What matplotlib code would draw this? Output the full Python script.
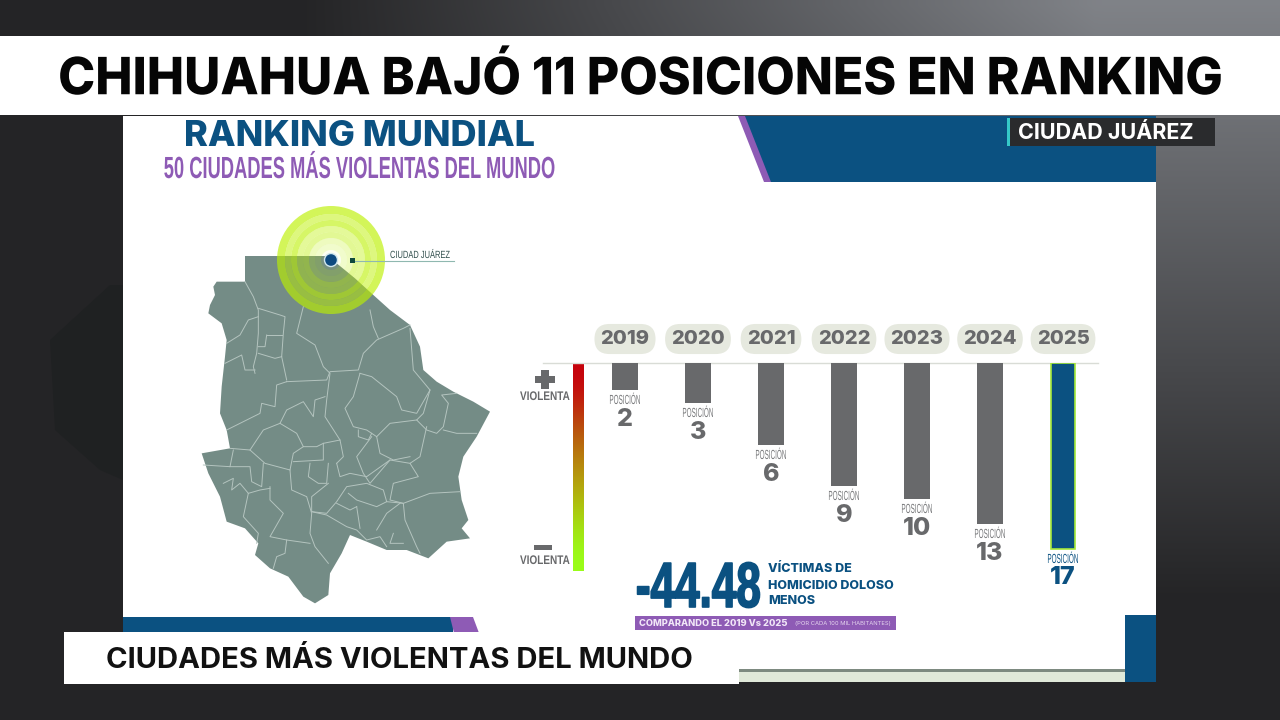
import numpy as np
import matplotlib
matplotlib.use('Agg')
import matplotlib.pyplot as plt
import matplotlib.patheffects as pe
from matplotlib.patches import Rectangle, Polygon, Wedge, Circle
from matplotlib.transforms import Affine2D

years = ['2019', '2020', '2021', '2022', '2023', '2024', '2025']
posiciones = [2, 3, 6, 9, 10, 13, 17]
# largo de cada barra leido de la imagen, no es proporcional a la posicion
largo_barra = [27, 40, 82, 123, 136, 161, 186]

titulo = 'CHIHUAHUA BAJÓ 11 POSICIONES EN RANKING'
cintillo = 'CIUDADES MÁS VIOLENTAS DEL MUNDO'

GRIS = '#68696b'
AZUL = '#0b5181'
MORADO = '#8e5bb5'
MAPA = '#748c86'
FONT = 'Inter'
SANS = 'Liberation Sans'


class Estrecho(pe.AbstractPathEffect):
    # angosta el texto en horizontal alrededor de x0 (pixeles), trazo opcional para engrosar
    def __init__(self, sx, x0, trazo=0):
        super().__init__()
        self.sx = sx
        self.x0 = x0
        self.trazo = trazo

    def draw_path(self, renderer, gc, tpath, affine, rgbFace=None):
        t = affine + Affine2D().translate(-self.x0, 0).scale(self.sx, 1).translate(self.x0, 0)
        if self.trazo:
            gc0 = renderer.new_gc()
            gc0.copy_properties(gc)
            gc0.set_linewidth(self.trazo)
            gc0.set_foreground(rgbFace)
            renderer.draw_path(gc0, tpath, t, rgbFace)
            gc0.restore()
        else:
            renderer.draw_path(gc, tpath, t, rgbFace)


# contorno del estado, coordenadas del recorte x3 (origen 190, 200)
contorno = [(165, 168), (405, 168), (440, 190), (495, 235), (550, 285), (600, 330), (660, 375), (690, 440),
            (700, 510), (740, 545), (790, 575), (850, 605), (900, 635), (860, 710), (820, 770), (805, 830),
            (815, 900), (835, 960), (815, 985), (840, 1015), (770, 1025), (715, 1075), (650, 1050), (590, 1050),
            (530, 1025), (480, 1005), (455, 1060), (420, 1120), (415, 1185), (375, 1210), (340, 1190), (295, 1130),
            (240, 1105), (195, 1065), (205, 1030), (165, 985), (110, 965), (90, 890), (55, 820), (35, 760),
            (120, 745), (110, 690), (90, 640), (95, 560), (105, 470), (110, 420), (95, 370), (55, 340),
            (60, 315), (75, 285), (70, 260), (80, 245), (165, 245)]

# limites municipales, solo decorativos
limites = [
    [(165, 245), (190, 290), (205, 330), (205, 400), (200, 460), (190, 500), (195, 520)],
    [(205, 325), (270, 345), (285, 350), (280, 400), (275, 470), (290, 540)],
    [(230, 405), (225, 440), (205, 440)],
    [(230, 405), (275, 405)],
    [(205, 460), (255, 475), (275, 470)],
    [(110, 430), (150, 405), (175, 360), (205, 350)],
    [(105, 490), (155, 465), (165, 510), (195, 510)],
    [(290, 545), (260, 555), (255, 620), (215, 610), (210, 640), (170, 660), (110, 690)],
    [(290, 545), (410, 540), (420, 515), (505, 510), (520, 460), (560, 420), (640, 385), (660, 375)],
    [(340, 320), (320, 400), (375, 435), (400, 500), (420, 520), (410, 600), (405, 650), (450, 720)],
    [(540, 330), (550, 380), (565, 415)],
    [(510, 520), (490, 590), (465, 625), (490, 680), (530, 690), (560, 710), (600, 670), (680, 660)],
    [(510, 520), (545, 530), (620, 590), (635, 630), (680, 640), (720, 570)],
    [(660, 385), (670, 510), (720, 570), (700, 640), (680, 660), (710, 690), (740, 700), (760, 680), (775, 610), (755, 585), (800, 580)],
    [(760, 690), (800, 700), (860, 700)],
    [(710, 680), (690, 770), (660, 790), (685, 830), (610, 850), (600, 900), (640, 910), (720, 880), (810, 875)],
    [(560, 710), (570, 760), (610, 780), (660, 770)],
    [(505, 690), (505, 710), (535, 720), (545, 700)],
    [(545, 710), (500, 770), (520, 820), (540, 850), (600, 780)],
    [(120, 745), (180, 750), (220, 690), (270, 670), (290, 630), (340, 605), (370, 650), (375, 600), (405, 590)],
    [(270, 670), (320, 700), (340, 740), (380, 740), (400, 730), (450, 720), (460, 770), (440, 790)],
    [(180, 750), (225, 790), (300, 810), (310, 760), (340, 740)],
    [(40, 795), (120, 800), (130, 750)],
    [(120, 800), (180, 800), (185, 845), (215, 860), (220, 790)],
    [(310, 785), (400, 780), (400, 730)],
    [(300, 810), (305, 870), (350, 890), (365, 940), (360, 1000), (375, 1040), (415, 1090)],
    [(360, 790), (355, 830), (385, 850), (410, 850), (415, 790)],
    [(415, 850), (365, 890), (365, 935), (410, 940), (440, 905), (470, 860), (530, 850), (580, 870), (590, 905), (560, 920), (500, 900), (475, 880)],
    [(440, 790), (450, 830), (480, 820), (530, 830), (600, 780), (660, 790)],
    [(240, 860), (240, 900), (280, 940), (240, 1010), (290, 1020), (360, 1030)],
    [(100, 850), (130, 835), (125, 870), (150, 850), (175, 880), (160, 950), (205, 1000), (200, 1030)],
    [(240, 865), (210, 870), (175, 880)],
    [(290, 1020), (285, 1060), (260, 1070), (250, 1105)],
    [(365, 935), (410, 945), (470, 980), (500, 990), (530, 1020), (570, 1010), (590, 1040)],
    [(590, 905), (640, 910), (645, 960), (680, 1040), (690, 1060)],
    [(560, 990), (590, 940), (630, 910)],
    [(610, 1000), (600, 1030), (640, 1030)],
    [(500, 920), (510, 985)],
    [(440, 910), (480, 930), (500, 920)],
]


def a_pixel(puntos):
    return np.array(puntos) / 3 + np.array([190, 200])


fig = plt.figure(figsize=(12.8, 7.2), dpi=100, facecolor='#242426')

# capa de fondo en pixeles
bg = fig.add_axes([0, 0, 1, 1])
bg.axis('off')

# fondo oscuro que aclara hacia arriba a la derecha
xx, yy = np.meshgrid(np.linspace(0, 1280, 128), np.linspace(0, 720, 72))
t = np.clip((xx - 300) / 800, 0, 1) * np.clip((600 - yy) / 600, 0, 1)
oscuro = np.array([0.143, 0.143, 0.15])
claro = np.array([0.50, 0.51, 0.53])
fondo = oscuro + (claro - oscuro) * t[..., None]
bg.imshow(fondo, extent=(0, 1280, 720, 0), aspect='auto', interpolation='bilinear', zorder=0)
bg.add_patch(Polygon([(50, 340), (110, 285), (123, 285), (123, 480), (100, 470), (55, 430)], color='#1f2122', lw=0, zorder=1))
bg.add_patch(Rectangle((123, 116), 1033, 566, color='white', lw=0, zorder=2))

# franjas del titulo y cintillo
bg.add_patch(Rectangle((0, 36), 1280, 79, color='white', lw=0, zorder=8))
bg.text(640, 80, titulo, ha='center', va='center', fontsize=37, fontweight='heavy', family=FONT, color='#050505', zorder=9,
        path_effects=[Estrecho(0.97, 640)])
bg.add_patch(Rectangle((64, 632), 675, 52, color='white', lw=0, zorder=8))
bg.text(106, 661, cintillo, ha='left', va='center', fontsize=21.05, fontweight='bold', family=FONT, color='#111111', zorder=9)

# adornos azules de la lamina
bg.add_patch(Polygon([(738, 116), (1156, 116), (1156, 182), (764, 182)], color=MORADO, lw=0, zorder=3))
bg.add_patch(Polygon([(745, 116), (1156, 116), (1156, 182), (771, 182)], color=AZUL, lw=0, zorder=3))
bg.add_patch(Rectangle((123, 617), 330, 16, color=AZUL, lw=0, zorder=3))
bg.add_patch(Polygon([(450, 617), (473, 617), (479, 633), (454, 633)], color=MORADO, lw=0, zorder=3))
bg.add_patch(Rectangle((1125, 615), 31, 67, color=AZUL, lw=0, zorder=3))
bg.add_patch(Rectangle((739, 672), 386, 10, color='#e0e9d9', lw=0, zorder=3))
bg.add_patch(Rectangle((739, 669), 386, 3, color='#7d8a80', lw=0, zorder=3))

# etiqueta de ciudad
bg.add_patch(Rectangle((1007, 118), 208, 28, color='#2a2b2d', lw=0, zorder=6))
bg.add_patch(Rectangle((1007, 118), 3, 28, color='#35c8c8', lw=0, zorder=7))
bg.text(1018, 133, 'CIUDAD JUÁREZ', ha='left', va='center', fontsize=15.5, fontweight='bold', family=FONT, color='white', zorder=7)

# encabezado de la lamina
bg.text(359, 137, 'RANKING MUNDIAL', ha='center', va='center', fontsize=26, fontweight='heavy', family=FONT, color=AZUL, zorder=4)
bg.text(359, 170, '50 CIUDADES MÁS VIOLENTAS DEL MUNDO', ha='center', va='center', fontsize=22, fontweight='bold', family=SANS,
        color=MORADO, zorder=4, path_effects=[Estrecho(0.6, 359)])

# mapa
bg.add_patch(Polygon(a_pixel(contorno), closed=True, color=MAPA, lw=0, zorder=3))
for lin in limites:
    p = a_pixel(lin)
    bg.plot(p[:, 0], p[:, 1], color='#b4c4bf', lw=0.7, zorder=4)

# anillos sobre Ciudad Juarez
for r, w, a in [(54, 8, 0.65), (46, 6, 0.5), (40, 6, 0.6), (34, 6, 0.4), (28, 6, 0.42), (22, 6, 0.25), (16, 6, 0.2), (10, 10, 0.05)]:
    bg.add_patch(Wedge((331, 260), r, 0, 360, width=w, color='#bcf000', alpha=a, lw=0, zorder=5))
bg.add_patch(Circle((331, 260), 6.5, facecolor='#0d4a80', edgecolor='#cfe6ee', lw=1, zorder=6))
bg.add_patch(Rectangle((350, 258), 5, 5, color='#0f4a3c', lw=0, zorder=6))
bg.plot([355, 454], [260.5, 260.5], color='#8fb8b0', lw=0.8, zorder=5)
bg.text(390, 255, 'CIUDAD JUÁREZ', ha='left', va='center', fontsize=7.5, family=SANS, color='#33504e', zorder=6,
        path_effects=[Estrecho(0.72, 390)])

# escala de violencia
grad = np.array([[0.78, 0.0, 0.05], [0.72, 0.3, 0.05], [0.72, 0.55, 0.05], [0.68, 0.78, 0.05], [0.6, 1.0, 0.1]])
bg.imshow(grad[:, None, :], extent=(573, 584, 571, 363), aspect='auto', interpolation='bicubic', zorder=3)
bg.set_xlim(0, 1280)
bg.set_ylim(720, 0)
bg.add_patch(Rectangle((541, 370), 8, 19, color=GRIS, lw=0, zorder=4))
bg.add_patch(Rectangle((535, 376), 20, 7, color=GRIS, lw=0, zorder=4))
bg.add_patch(Rectangle((534, 545), 18, 5, color=GRIS, lw=0, zorder=4))
for y in [397, 561]:
    bg.text(545, y, 'VIOLENTA', ha='center', va='center', fontsize=9, fontweight='bold', family=SANS, color=GRIS, zorder=4,
            path_effects=[Estrecho(0.8, 545)])
bg.plot([543, 1098], [363, 363], color='#d9dcd6', lw=1, zorder=3)

# grafica de barras
ax = fig.add_axes([588.5 / 1280, 1 - 600 / 720, 511 / 1280, 237 / 720])
ax.patch.set_alpha(0)
x = np.arange(len(years))
ax.bar(x[:6], largo_barra[:6], width=0.36, color=GRIS, lw=0, zorder=3)
ax.bar(x[6:], largo_barra[6:], width=0.34, color=AZUL, edgecolor='#a4e83a', lw=1.2, zorder=3)
ax.set_xlim(-0.5, 6.5)
ax.set_ylim(237, 0)
ax.axis('off')
fig.canvas.draw()

for i, (yr, pos, lb) in enumerate(zip(years, posiciones, largo_barra)):
    ax.text(i, -24, yr, ha='center', va='center', fontsize=14.5, fontweight='heavy', family=FONT, color=GRIS, clip_on=False,
            bbox=dict(boxstyle='round,pad=0.3,rounding_size=0.75', fc='#e6e9df', ec='none'))
    x_px = ax.transData.transform((i, 0))[0]
    col = AZUL if i == 6 else '#77787a'
    ax.text(i, lb + 11, 'POSICIÓN', ha='center', va='center', fontsize=9.5, family=SANS, color=col,
            path_effects=[Estrecho(0.48, x_px)])
    ax.text(i, lb + 29, str(pos), ha='center', va='center', fontsize=18, fontweight='heavy', family=FONT, color=AZUL if i == 6 else GRIS)

# dato de homicidios
bg.text(761, 590, '-44.48', ha='right', va='center', fontsize=46, fontweight='bold', family=SANS, color=AZUL, zorder=4,
        path_effects=[Estrecho(0.69, 761, trazo=1.2)])
for y, t_lin in [(569, 'VÍCTIMAS DE'), (586, 'HOMICIDIO DOLOSO'), (601, 'MENOS')]:
    bg.text(768, y, t_lin, ha='left', va='center', fontsize=9, fontweight='heavy', family=FONT, color=AZUL, zorder=4)
bg.add_patch(Rectangle((635, 616), 261, 14, color=MORADO, lw=0, zorder=4))
bg.text(639, 623, 'COMPARANDO EL 2019 Vs 2025', ha='left', va='center', fontsize=6.7, fontweight='heavy', family=FONT, color='#f1e6f7', zorder=5)
bg.text(795, 623.5, '(POR CADA 100 MIL HABITANTES)', ha='left', va='center', fontsize=4.2, family=FONT, color='#e5d5ee', zorder=5)

fig.savefig('out.png', dpi=100, facecolor=fig.get_facecolor())
